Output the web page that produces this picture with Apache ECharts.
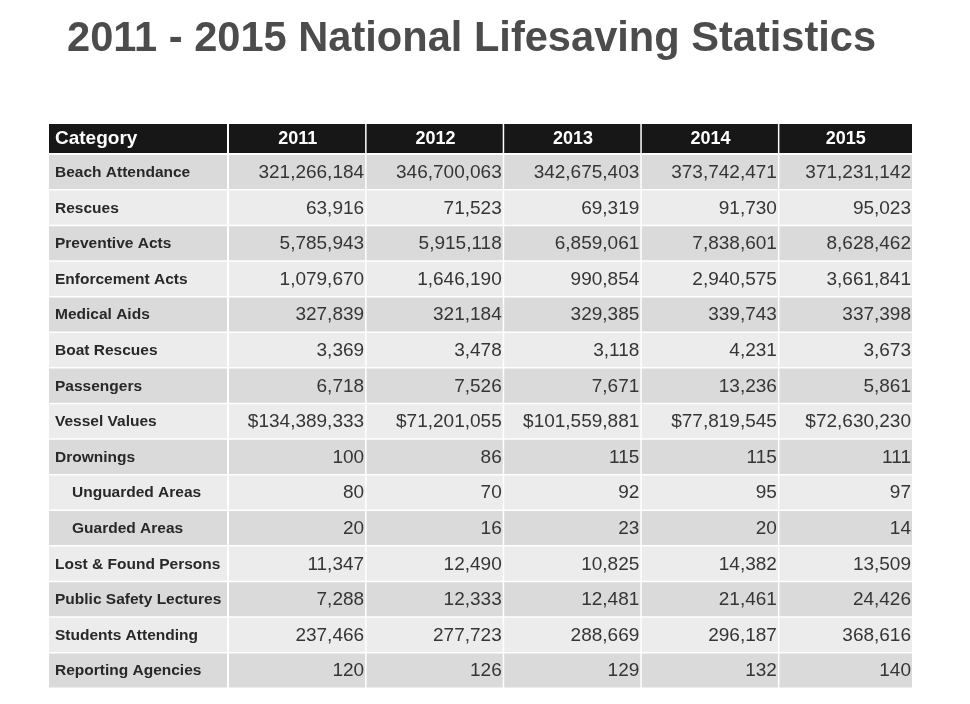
<!DOCTYPE html>
<html>
<head>
<meta charset="utf-8">
<script src="https://cdn.jsdelivr.net/npm/echarts@6/dist/echarts.min.js"></script>
<style>
html,body{margin:0;padding:0;background:#fff;}
#chart{width:970px;height:704px;}
</style>
</head>
<body>
<div id="chart"></div>
<script>
// ---- data ----
const titleText = '2011 - 2015 National Lifesaving Statistics';
const headerLabel = 'Category';
const years = ['2011', '2012', '2013', '2014', '2015'];
const categories = [
  'Beach Attendance', 'Rescues', 'Preventive Acts', 'Enforcement Acts', 'Medical Aids',
  'Boat Rescues', 'Passengers', 'Vessel Values', 'Drownings', 'Unguarded Areas',
  'Guarded Areas', 'Lost & Found Persons', 'Public Safety Lectures', 'Students Attending',
  'Reporting Agencies'
];
const v2011 = [321266184, 63916, 5785943, 1079670, 327839, 3369, 6718, 134389333, 100, 80, 20, 11347, 7288, 237466, 120];
const v2012 = [346700063, 71523, 5915118, 1646190, 321184, 3478, 7526, 71201055, 86, 70, 16, 12490, 12333, 277723, 126];
const v2013 = [342675403, 69319, 6859061, 990854, 329385, 3118, 7671, 101559881, 115, 92, 23, 10825, 12481, 288669, 129];
const v2014 = [373742471, 91730, 7838601, 2940575, 339743, 4231, 13236, 77819545, 115, 95, 20, 14382, 21461, 296187, 132];
const v2015 = [371231142, 95023, 8628462, 3661841, 337398, 3673, 5861, 72630230, 111, 97, 14, 13509, 24426, 368616, 140];
const currencyRows = ['Vessel Values'];
const subRows = ['Unguarded Areas', 'Guarded Areas'];

// ---- layout / style ----
const FONT = '"Liberation Sans", Arial, Helvetica, sans-serif';
const TABLE_RIGHT = 912;
const HEADER_BG = '#171717';
const ROW_DARK = '#dadada';
const ROW_LIGHT = '#ececec';

const yearValues = [v2011, v2012, v2013, v2014, v2015];
function fmt(row, v) {
  const s = v.toLocaleString('en-US');
  return currencyRows.indexOf(categories[row]) >= 0 ? '$' + s : s;
}
const bodyData = [];
const bodyText = [];
yearValues.forEach((arr, i) => {
  arr.forEach((v, j) => {
    bodyData.push([i, j]);
    bodyText.push(fmt(j, v));
  });
});

function cellRect(api) {
  const c = api.coord([api.value(0), api.value(1)]);
  const s = api.size([1, 1]);
  return { x: c[0] - s[0] / 2, y: c[1] - s[1] / 2, w: s[0], h: s[1] };
}

const chart = echarts.init(document.getElementById('chart'), null, { renderer: 'canvas' });

const hidden = { show: false };
const option = {
  backgroundColor: '#ffffff',
  animation: false,
  title: {
    text: titleText,
    left: 67,
    top: 19,
    padding: 0,
    textStyle: { fontFamily: FONT, fontSize: 41.6, fontWeight: 'bold', color: '#4c4c4c' }
  },
  grid: [
    { left: 49, top: 124, width: 179, height: 30 },
    { left: 229, top: 124, width: 688, height: 30 },
    { left: 49, top: 155, width: 179, height: 534 },
    { left: 229, top: 155, width: 688, height: 534 }
  ],
  xAxis: [
    { gridIndex: 0, type: 'category', data: [headerLabel], ...hidden },
    { gridIndex: 1, type: 'category', data: years, ...hidden },
    { gridIndex: 2, type: 'category', data: [headerLabel], ...hidden },
    { gridIndex: 3, type: 'category', data: years, ...hidden }
  ],
  yAxis: [
    { gridIndex: 0, type: 'category', data: ['h'], ...hidden },
    { gridIndex: 1, type: 'category', data: ['h'], ...hidden },
    { gridIndex: 2, type: 'category', data: categories, inverse: true, ...hidden },
    { gridIndex: 3, type: 'category', data: categories, inverse: true, ...hidden }
  ],
  series: [
    {
      type: 'custom', xAxisIndex: 0, yAxisIndex: 0,
      data: [[0, 0]],
      renderItem: function (params, api) {
        const r = cellRect(api);
        return {
          type: 'group',
          children: [
            { type: 'rect', shape: { x: r.x, y: r.y, width: r.w - 1, height: r.h - 1 }, style: { fill: HEADER_BG } },
            { type: 'text', style: { x: r.x + 6, y: r.y + r.h / 2, text: headerLabel, fill: '#ffffff',
              font: 'bold 19px ' + FONT, align: 'left', verticalAlign: 'middle' } }
          ]
        };
      }
    },
    {
      type: 'custom', xAxisIndex: 1, yAxisIndex: 1,
      data: years.map((y, i) => [i, 0]),
      renderItem: function (params, api) {
        const r = cellRect(api);
        const right = Math.min(r.x + r.w, TABLE_RIGHT);
        const last = right >= TABLE_RIGHT;
        const x0 = r.x;
        return {
          type: 'group',
          children: [
            { type: 'rect', shape: { x: x0, y: r.y, width: right - x0 - (last ? 0 : 1.5), height: r.h - 1 }, style: { fill: HEADER_BG } },
            { type: 'text', style: { x: (x0 + right) / 2, y: r.y + r.h / 2, text: years[params.dataIndex], fill: '#ffffff',
              font: 'bold 18px ' + FONT, align: 'center', verticalAlign: 'middle' } }
          ]
        };
      }
    },
    {
      type: 'custom', xAxisIndex: 2, yAxisIndex: 2,
      data: categories.map((c, j) => [0, j]),
      renderItem: function (params, api) {
        const r = cellRect(api);
        const j = params.dataIndex;
        const indent = subRows.indexOf(categories[j]) >= 0 ? 17 : 0;
        return {
          type: 'group',
          children: [
            { type: 'rect', shape: { x: r.x, y: r.y, width: r.w - 1, height: r.h - 1.5 }, style: { fill: j % 2 === 0 ? ROW_DARK : ROW_LIGHT } },
            { type: 'text', style: { x: r.x + 6 + indent, y: r.y + r.h / 2, text: categories[j], fill: '#282828',
              font: 'bold 15.5px ' + FONT, align: 'left', verticalAlign: 'middle' } }
          ]
        };
      }
    },
    {
      type: 'custom', xAxisIndex: 3, yAxisIndex: 3,
      data: bodyData,
      renderItem: function (params, api) {
        const r = cellRect(api);
        const j = api.value(1);
        const right = Math.min(r.x + r.w, TABLE_RIGHT);
        const last = right >= TABLE_RIGHT;
        const x0 = r.x;
        return {
          type: 'group',
          children: [
            { type: 'rect', shape: { x: x0, y: r.y, width: right - x0 - (last ? 0 : 1.5), height: r.h - 1.5 }, style: { fill: j % 2 === 0 ? ROW_DARK : ROW_LIGHT } },
            { type: 'text', style: { x: right - (last ? 1 : 2.5), y: r.y + r.h / 2, text: bodyText[params.dataIndex], fill: '#353535',
              font: '19px ' + FONT, align: 'right', verticalAlign: 'middle' } }
          ]
        };
      }
    }
  ]
};
chart.setOption(option);
</script>
</body>
</html>
